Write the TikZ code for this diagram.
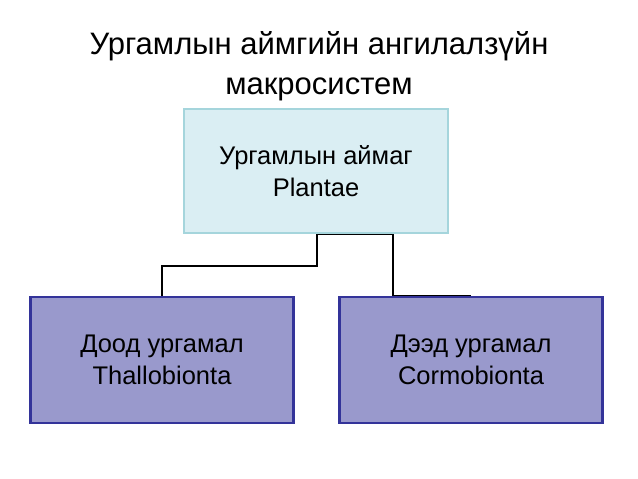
\documentclass[tikz,border=0pt]{standalone}
\usepackage{fontspec}
\setmainfont{Liberation Sans}
\usepackage{xcolor}
\usetikzlibrary{positioning}
\definecolor{topfill}{HTML}{DAEEF3}
\definecolor{topline}{HTML}{A5D5DC}
\definecolor{lowfill}{HTML}{9999CC}
\definecolor{lowline}{HTML}{333399}

\begin{document}
\begin{tikzpicture}[x=1pt, y=-1pt]
        \tikzset{
            every node/.style={
                align=center,
                text centered,
                inner sep=0pt,
            },
            topbox/.style={draw=topline, fill=topfill, line width=2.5pt,
                minimum width=264pt, minimum height=124pt, font=\fontsize{25.5}{32}\selectfont},
            lowbox/.style={draw=lowline, fill=lowfill, line width=2.5pt,
                minimum width=263pt, minimum height=126pt, font=\fontsize{25.5}{32}\selectfont},
            link/.style={draw=black, line width=1.2pt},
        }
        \useasboundingbox (0,0) rectangle (638,479);
        \node[font=\fontsize{31}{40}\selectfont] (title) at (319,66) {Ургамлын аймгийн ангилалзүйн\\макросистем};
        \node[topbox] (plant) at (316,171) {Ургамлын аймаг\\Plantae};
        \node[lowbox] (low) at (162,360) {Доод ургамал\\Thallobionta};
        \node[lowbox] (high) at (471,360) {Дээд ургамал\\Cormobionta};

        \coordinate (c) at (317,266);
        \draw[link] (low.north) -- (low.north |- c) -- (c) -- ([xshift=1pt]plant.south) -- ([xshift=77pt]plant.south);
        \draw[link] ([xshift=77pt]plant.south) -- ([xshift=77pt]plant.south |- high.north) -- (high.north);
\end{tikzpicture}
\end{document}
